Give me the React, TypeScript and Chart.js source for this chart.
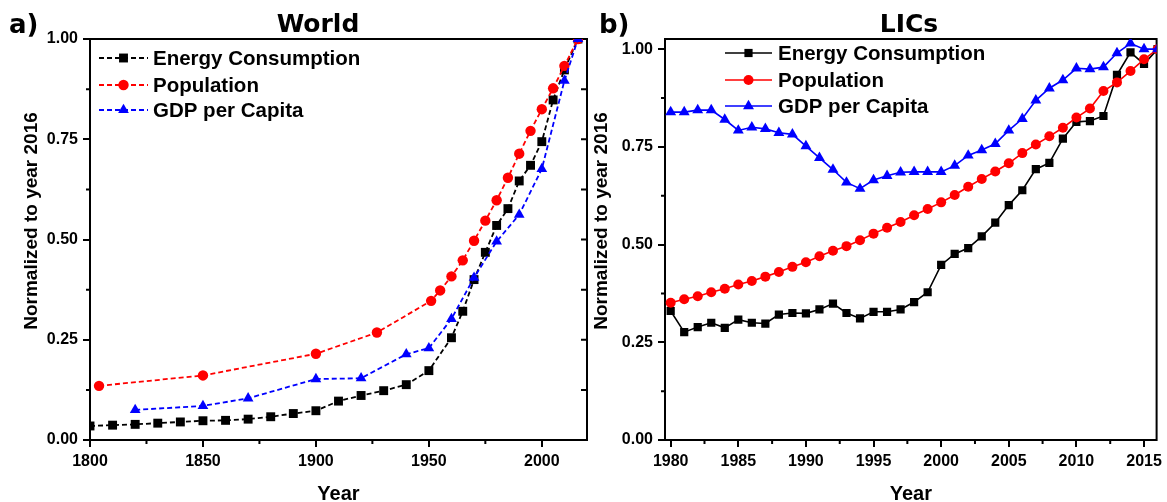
import React, { useEffect, useRef } from 'react';
import { Chart, registerables } from 'chart.js';

Chart.register(...registerables);

const FONT = '"Liberation Sans", Arial, sans-serif';
const TITLE_FONT = '"DejaVu Sans", Verdana, sans-serif';

// ---------- Panel a) World ----------
const WORLD_ENERGY_YEARS = [1800, 1810, 1820, 1830, 1840, 1850, 1860, 1870, 1880, 1890, 1900, 1910, 1920, 1930, 1940, 1950, 1960, 1965, 1970, 1975, 1980, 1985, 1990, 1995, 2000, 2005, 2010, 2016];
const WORLD_ENERGY = [0.035, 0.037, 0.039, 0.042, 0.045, 0.048, 0.049, 0.052, 0.058, 0.066, 0.073, 0.097, 0.111, 0.123, 0.138, 0.173, 0.255, 0.321, 0.4, 0.468, 0.535, 0.577, 0.646, 0.685, 0.744, 0.848, 0.923, 1.0];

const WORLD_POP_YEARS = [1804, 1850, 1900, 1927, 1951, 1955, 1960, 1965, 1970, 1975, 1980, 1985, 1990, 1995, 2000, 2005, 2010, 2016];
const WORLD_POP = [0.135, 0.161, 0.215, 0.268, 0.347, 0.373, 0.408, 0.448, 0.497, 0.547, 0.598, 0.654, 0.714, 0.771, 0.825, 0.877, 0.933, 1.0];

const WORLD_GDP_YEARS = [1820, 1850, 1870, 1900, 1920, 1940, 1950, 1960, 1970, 1980, 1990, 2000, 2010, 2016];
const WORLD_GDP = [0.075, 0.085, 0.104, 0.152, 0.154, 0.214, 0.229, 0.302, 0.405, 0.495, 0.562, 0.676, 0.896, 1.0];

const WORLD_X_TICKS = [1800, 1850, 1900, 1950, 2000];
const WORLD_X_MINOR = [1825, 1875, 1925, 1975];

// ---------- Panel b) LICs ----------
const LIC_YEARS = [1980, 1981, 1982, 1983, 1984, 1985, 1986, 1987, 1988, 1989, 1990, 1991, 1992, 1993, 1994, 1995, 1996, 1997, 1998, 1999, 2000, 2001, 2002, 2003, 2004, 2005, 2006, 2007, 2008, 2009, 2010, 2011, 2012, 2013, 2014, 2015, 2016];
const LIC_ENERGY = [0.330, 0.276, 0.289, 0.300, 0.287, 0.308, 0.300, 0.298, 0.321, 0.325, 0.324, 0.334, 0.349, 0.325, 0.311, 0.328, 0.328, 0.334, 0.353, 0.378, 0.448, 0.476, 0.491, 0.521, 0.556, 0.601, 0.639, 0.693, 0.709, 0.771, 0.814, 0.816, 0.829, 0.934, 0.992, 0.962, 1.0];
const LIC_POP = [0.351, 0.360, 0.368, 0.378, 0.387, 0.398, 0.407, 0.418, 0.430, 0.443, 0.455, 0.470, 0.484, 0.496, 0.511, 0.528, 0.543, 0.558, 0.575, 0.591, 0.608, 0.627, 0.648, 0.668, 0.687, 0.708, 0.734, 0.756, 0.777, 0.799, 0.825, 0.848, 0.893, 0.915, 0.944, 0.974, 1.0];
const LIC_GDP = [0.839, 0.839, 0.844, 0.844, 0.820, 0.792, 0.800, 0.796, 0.786, 0.782, 0.752, 0.722, 0.692, 0.659, 0.643, 0.665, 0.676, 0.685, 0.686, 0.686, 0.686, 0.702, 0.728, 0.742, 0.758, 0.792, 0.822, 0.869, 0.900, 0.921, 0.951, 0.949, 0.954, 0.990, 1.015, 1.000, 1.000];

const LIC_X_TICKS = [1980, 1985, 1990, 1995, 2000, 2005, 2010, 2015];
const LIC_X_MINOR = [1982.5, 1987.5, 1992.5, 1997.5, 2002.5, 2007.5, 2012.5];

const Y_TICKS = [0, 0.25, 0.5, 0.75, 1.0];
const Y_MINOR = [0.125, 0.375, 0.625, 0.875];

const SERIES_LABELS = ['Energy Consumption', 'Population', 'GDP per Capita'];
const SERIES_COLORS = ['#000000', '#ff0000', '#0000ff'];
const SERIES_MARKERS = ['rect', 'circle', 'triangle'];

const X_TITLE = 'Year';
const Y_TITLE = 'Normalized to year 2016';

function pts(xs: number[], ys: number[]) {
  return xs.map((x, i) => ({ x, y: ys[i] }));
}

function drawMarker(ctx: CanvasRenderingContext2D, style: string, x: number, y: number, r: number, color: string) {
  ctx.fillStyle = color;
  ctx.beginPath();
  if (style === 'rect') {
    const s = r * Math.SQRT1_2;
    ctx.rect(x - s, y - s, 2 * s, 2 * s);
  } else if (style === 'circle') {
    ctx.arc(x, y, r, 0, Math.PI * 2);
  } else {
    let rad = 0;
    ctx.moveTo(x + Math.sin(rad) * r, y - Math.cos(rad) * r);
    rad += (2 * Math.PI) / 3;
    ctx.lineTo(x + Math.sin(rad) * r, y - Math.cos(rad) * r);
    rad += (2 * Math.PI) / 3;
    ctx.lineTo(x + Math.sin(rad) * r, y - Math.cos(rad) * r);
    ctx.closePath();
  }
  ctx.fill();
}

type PanelCfg = {
  width: number;
  area: { left: number; top: number; right: number; bottom: number };
  xMin: number;
  xMax: number;
  yMax: number;
  xTicks: number[];
  xMinor: number[];
  series: { x: number[]; y: number[] }[];
  dash: number[];
  lineWidth: number;
  radii: number[];
  mirror: boolean;
  letter: string;
  letterX: number;
  title: string;
  titleX: number;
  yTitleX: number;
  legend: { x0: number; x1: number; tx: number; rows: number[] };
};

function makeDecor(cfg: PanelCfg) {
  return {
    id: 'decor',
    beforeDatasetsDraw(chart: any) {
      const { ctx } = chart;
      const { left, top, right, bottom } = chart.chartArea;
      const xs = chart.scales.x;
      const ys = chart.scales.y;
      ctx.save();
      ctx.strokeStyle = '#000';
      ctx.lineWidth = 2;
      ctx.strokeRect(left, top, right - left, bottom - top);
      ctx.beginPath();
      cfg.xMinor.forEach((v) => {
        const p = xs.getPixelForValue(v);
        ctx.moveTo(p, bottom);
        ctx.lineTo(p, bottom + 4);
      });
      Y_MINOR.forEach((v) => {
        const p = ys.getPixelForValue(v);
        ctx.moveTo(left, p);
        ctx.lineTo(left - 4, p);
      });
      if (cfg.mirror) {
        [...Y_TICKS, ...Y_MINOR].forEach((v) => {
          const p = ys.getPixelForValue(v);
          ctx.moveTo(right, p);
          ctx.lineTo(right - 6, p);
        });
      }
      ctx.stroke();
      ctx.restore();
    },
    afterDraw(chart: any) {
      const { ctx } = chart;
      const { left, right } = chart.chartArea;
      ctx.save();
      // legend
      const L = cfg.legend;
      SERIES_LABELS.forEach((label, i) => {
        const y = L.rows[i];
        ctx.strokeStyle = SERIES_COLORS[i];
        ctx.lineWidth = cfg.lineWidth;
        ctx.setLineDash(cfg.dash);
        ctx.beginPath();
        ctx.moveTo(L.x0, y);
        ctx.lineTo(L.x1, y);
        ctx.stroke();
        ctx.setLineDash([]);
        drawMarker(ctx, SERIES_MARKERS[i], (L.x0 + L.x1) / 2, y, cfg.radii[i], SERIES_COLORS[i]);
        ctx.fillStyle = '#000';
        ctx.font = `bold 20.5px ${FONT}`;
        ctx.textAlign = 'left';
        ctx.textBaseline = 'middle';
        ctx.fillText(label, L.tx, y + 1);
      });
      // panel letter and title
      ctx.fillStyle = '#000';
      ctx.textBaseline = 'alphabetic';
      ctx.font = `bold 26px ${TITLE_FONT}`;
      ctx.textAlign = 'left';
      ctx.fillText(cfg.letter, cfg.letterX, 33);
      ctx.font = `bold 25px ${TITLE_FONT}`;
      ctx.textAlign = 'center';
      ctx.fillText(cfg.title, cfg.titleX, 32);
      // axis titles
      ctx.font = `bold 20px ${FONT}`;
      ctx.fillText(X_TITLE, (left + right) / 2, 500);
      ctx.translate(cfg.yTitleX, 221);
      ctx.rotate(-Math.PI / 2);
      ctx.font = `bold 19px ${FONT}`;
      ctx.textBaseline = 'middle';
      ctx.fillText(Y_TITLE, 0, 0);
      ctx.restore();
    },
  };
}

function Panel({ cfg, left }: { cfg: PanelCfg; left: number }) {
  const ref = useRef<HTMLCanvasElement | null>(null);
  useEffect(() => {
    if (!ref.current) return;
    const tickFont = { family: FONT, size: 16, weight: 'bold' as const };
    const chart = new Chart(ref.current, {
      type: 'line',
      data: {
        datasets: cfg.series.map((s, i) => ({
          label: SERIES_LABELS[i],
          data: pts(s.x, s.y),
          borderColor: SERIES_COLORS[i],
          backgroundColor: SERIES_COLORS[i],
          pointBackgroundColor: SERIES_COLORS[i],
          pointBorderColor: SERIES_COLORS[i],
          pointBorderWidth: 0,
          pointStyle: SERIES_MARKERS[i] as any,
          pointRadius: cfg.radii[i],
          borderWidth: cfg.lineWidth,
          borderDash: cfg.dash,
          tension: 0,
          fill: false,
          order: 3 - i,
        })),
      },
      options: {
        animation: false,
        responsive: false,
        devicePixelRatio: 1,
        events: [],
        layout: {
          autoPadding: false,
          padding: { left: 0, top: cfg.area.top, right: cfg.width - cfg.area.right, bottom: 0 },
        },
        plugins: { legend: { display: false }, tooltip: { enabled: false }, title: { display: false } },
        scales: {
          x: {
            type: 'linear',
            min: cfg.xMin,
            max: cfg.xMax,
            afterFit: (s: any) => {
              s.height = 502 - cfg.area.bottom;
            },
            afterBuildTicks: (s: any) => {
              s.ticks = cfg.xTicks.map((v) => ({ value: v }));
            },
            ticks: {
              font: tickFont,
              color: '#000',
              padding: 5,
              maxRotation: 0,
              autoSkip: false,
              callback: (v: any) => String(v),
            },
            grid: { display: true, drawOnChartArea: false, drawTicks: true, tickLength: 7, color: '#000', lineWidth: 2 },
            border: { display: false },
          },
          y: {
            type: 'linear',
            min: 0,
            max: cfg.yMax,
            afterFit: (s: any) => {
              s.width = cfg.area.left;
            },
            afterBuildTicks: (s: any) => {
              s.ticks = Y_TICKS.map((v) => ({ value: v }));
            },
            ticks: {
              font: tickFont,
              color: '#000',
              padding: 5,
              autoSkip: false,
              callback: (v: any) => Number(v).toFixed(2),
            },
            grid: { display: true, drawOnChartArea: false, drawTicks: true, tickLength: 7, color: '#000', lineWidth: 2 },
            border: { display: false },
          },
        },
      },
      plugins: [makeDecor(cfg)],
    });
    return () => chart.destroy();
  }, [cfg]);
  return (
    <canvas
      ref={ref}
      width={cfg.width}
      height={502}
      style={{ position: 'absolute', left, top: 0, width: cfg.width, height: 502 }}
    />
  );
}

const WORLD_CFG: PanelCfg = {
  width: 590,
  area: { left: 90, top: 39, right: 587, bottom: 440 },
  xMin: 1800,
  xMax: 2020,
  yMax: 1.0,
  xTicks: WORLD_X_TICKS,
  xMinor: WORLD_X_MINOR,
  series: [
    { x: WORLD_ENERGY_YEARS, y: WORLD_ENERGY },
    { x: WORLD_POP_YEARS, y: WORLD_POP },
    { x: WORLD_GDP_YEARS, y: WORLD_GDP },
  ],
  dash: [5, 3],
  lineWidth: 1.8,
  radii: [6.3, 5.2, 6.2],
  mirror: true,
  letter: 'a)',
  letterX: 9,
  title: 'World',
  titleX: 318,
  yTitleX: 32,
  legend: { x0: 99, x1: 148, tx: 153, rows: [58, 85, 110] },
};

const LIC_CFG: PanelCfg = {
  width: 577,
  area: { left: 75, top: 39, right: 570, bottom: 440 },
  xMin: 1979.58,
  xMax: 2015.93,
  yMax: 1.026,
  xTicks: LIC_X_TICKS,
  xMinor: LIC_X_MINOR,
  series: [
    { x: LIC_YEARS, y: LIC_ENERGY },
    { x: LIC_YEARS, y: LIC_POP },
    { x: LIC_YEARS, y: LIC_GDP },
  ],
  dash: [],
  lineWidth: 1.6,
  radii: [5.8, 5, 6.3],
  mirror: false,
  letter: 'b)',
  letterX: 9,
  title: 'LICs',
  titleX: 319,
  yTitleX: 12,
  legend: { x0: 135, x1: 182, tx: 188, rows: [53, 80, 106] },
};

export default function App() {
  return (
    <div style={{ position: 'fixed', left: 0, top: 0, width: 1167, height: 502, background: '#fff', overflow: 'hidden' }}>
      <Panel cfg={WORLD_CFG} left={0} />
      <Panel cfg={LIC_CFG} left={590} />
    </div>
  );
}
